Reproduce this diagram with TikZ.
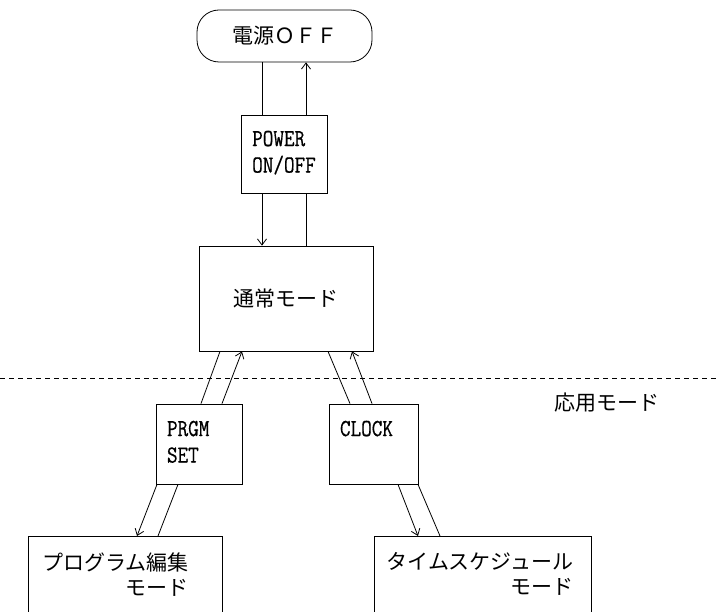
\documentclass[tikz,border=0pt]{standalone}
\usepackage{fontspec}
\setmainfont{Liberation Serif}
\newfontfamily\jpf{Noto Sans CJK JP}
\newfontfamily\monof[FakeStretch=0.84,FakeBold=0.6]{Latin Modern Mono}
\usetikzlibrary{arrows.meta,calc}
\begin{document}
\begin{tikzpicture}[x=1pt,y=-1pt,line width=0.8pt,
  box/.style={draw,inner sep=0pt},
  jp/.style={font=\jpf\fontsize{21}{25}\selectfont},
  lat/.style={font=\monof\fontsize{24.5}{26.5}\selectfont},
  arr/.style={-{Straight Barb[length=6pt,width=9pt]}}]
\useasboundingbox (0,0) rectangle (716,612);
\clip (0,0) rectangle (716,612);
\fill[white] (0,0) rectangle (716,612);
% boxes
\node[box,rounded corners=22pt,minimum width=175pt,minimum height=52pt,jp] (off) at (284.5,36) {電源ＯＦＦ};
\node[box,minimum width=86pt,minimum height=78pt,lat,align=left] (power) at (284,154) {\strut POWER\\\strut ON/OFF};
\node[box,minimum width=174pt,minimum height=105pt,jp] (normal) at (286,298.5) {通常モード};
\node[box,minimum width=86pt,minimum height=80pt,lat,align=left,text width=64pt] (prgm) at (199,444) {\strut PRGM\\\strut SET};
\node[box,minimum width=89pt,minimum height=80pt,lat,align=left,text width=67pt] (clock) at (373.5,444) {\strut CLOCK\\\strut};
\node[box,anchor=north west,minimum width=194pt,minimum height=110pt] (prog) at (28,536) {};
\node[box,anchor=north west,minimum width=217pt,minimum height=110pt] (sched) at (374,536) {};
\node[jp,anchor=north west,align=right,inner sep=0pt] (progt) at ($(prog.north west)+(14,16)$) {プログラム編集\\モード};
\node[jp,anchor=north west,align=right,inner sep=0pt] (schedt) at ($(sched.north west)+(12,16)$) {タイムスケジュール\\モード};
\node[jp] (app) at (607,403) {応用モード};
% separator
\coordinate (dl) at (0,378);
\coordinate (dr) at (716,378);
\draw[dash pattern=on 5pt off 4pt] (dl) -- (dr);
% connectors
\draw (off.south -| 262,0) -- (power.north -| 262,0);
\draw[arr] (power.north -| 306,0) -- (off.south -| 306,0);
\draw[arr] (power.south -| 262,0) -- (normal.north -| 262,0);
\draw (power.south -| 306,0) -- (normal.north -| 306,0);
\draw (prgm.north -| 201,0) -- (normal.south -| 220,0);
\draw[arr] (prgm.north -| 222,0) -- (normal.south -| 242,0);
\draw (clock.north -| 350,0) -- (normal.south -| 328,0);
\draw[arr] (clock.north -| 372,0) -- (normal.south -| 352,0);
\draw[arr] (prgm.south -| 157,0) -- (prog.north -| 137,0);
\draw (prgm.south -| 178,0) -- (prog.north -| 158,0);
\draw[arr] (clock.south -| 398,0) -- (sched.north -| 418,0);
\draw (clock.south -| 418,0) -- (sched.north -| 440,0);
\end{tikzpicture}
\end{document}
